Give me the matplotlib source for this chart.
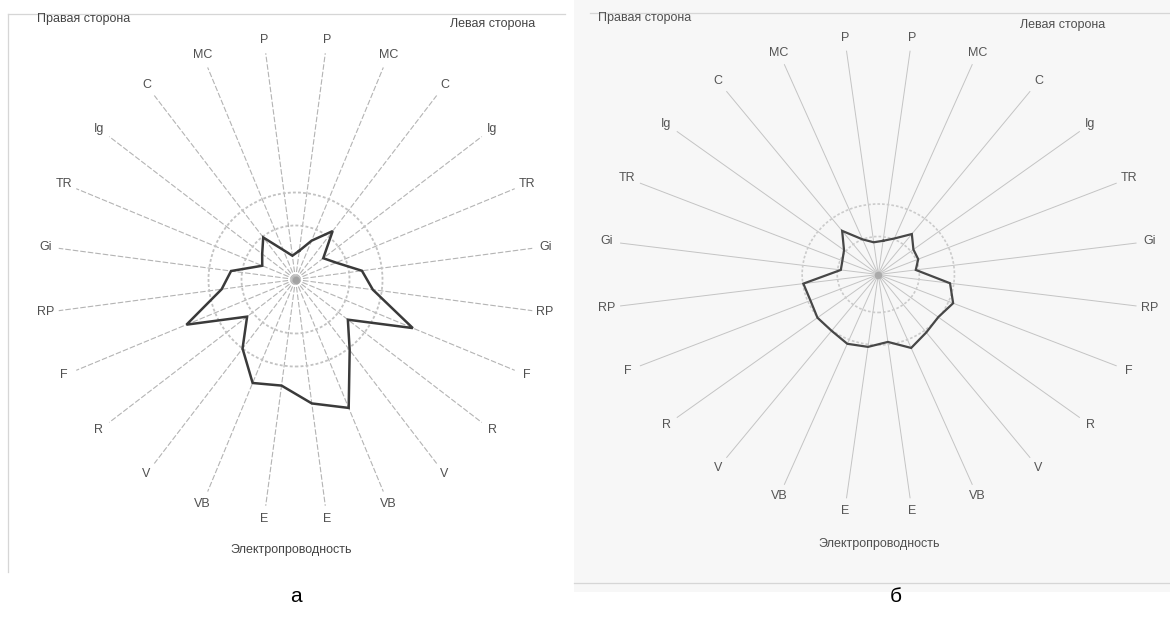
import numpy as np
import matplotlib
matplotlib.use("Agg")
import matplotlib.pyplot as plt
from matplotlib.patches import Circle, Rectangle
from matplotlib.lines import Line2D

plt.rcParams['font.family'] = ['Liberation Sans', 'DejaVu Sans']

W, H = 1170, 626

# Meridians, listed from the top of the chart downwards on each side
meridians = ['P', 'MC', 'C', 'Ig', 'TR', 'Gi', 'RP', 'F', 'R', 'V', 'VB', 'E']

# Panel "а": conductance per meridian
a_left_side = [29, 42, 61, 35, 44, 67, 78, 127, 66, 89, 139, 125]
a_right_side = [24, 32, 53, 42, 36, 65, 74.5, 118, 61, 87, 112, 107]
a_norm = [54, 87]

# Panel "б": conductance per meridian
b_left_side = [34, 39, 51, 41, 40, 35, 67, 75, 70, 73, 79.5, 68]
b_right_side = [32.5, 38, 55, 40, 36, 35, 70, 68, 71, 71, 75, 73]
b_norm = [38, 70.5]

side_titles = ['Правая сторона', 'Левая сторона']
bottom_title = 'Электропроводность'
panel_letters = ['а', 'б']

fig = plt.figure(figsize=(W / 100, H / 100), dpi=100)


def fx(px):
    return px / W


def fy(py):
    return 1 - py / H


def make_axes(box, center, sx):
    x0, y0, x1, y1 = box
    cx, cy = center
    ax = fig.add_axes([fx(x0), fy(y1), (x1 - x0) / W, (y1 - y0) / H])
    ax.set_xlim((x0 - cx) / sx, (x1 - cx) / sx)
    ax.set_ylim(cy - y1, cy - y0)
    ax.axis('off')
    ax.patch.set_alpha(0)
    return ax


def draw_radar(ax, left_vals, right_vals, norm, lab_a, lab_b, st):
    k = np.arange(len(meridians))
    th_l = np.deg2rad(7.5 + 15 * k)          # "Левая сторона" half
    th_r = -th_l                              # "Правая сторона" half

    def lab_r(th):
        return 1.0 / np.sqrt((np.sin(th) / lab_a) ** 2 + (np.cos(th) / lab_b) ** 2)

    # spokes and meridian labels
    for th in np.concatenate([th_l, th_r]):
        rl = lab_r(th)
        re = rl - 13
        ax.plot([0, re * np.sin(th)], [0, re * np.cos(th)], color=st['spoke'],
                lw=st['spoke_lw'], ls=st['spoke_ls'], zorder=1)
    for th, name in zip(np.concatenate([th_l, th_r]), meridians + meridians):
        rl = lab_r(th)
        ax.text(rl * np.sin(th), rl * np.cos(th), name, ha='center', va='center',
                fontsize=9, color=st['text'], clip_on=False)

    # norm rings
    for r in norm:
        ax.add_patch(Circle((0, 0), r, fill=False, ec=st['ring'], lw=st['ring_lw'],
                            ls=(0, (1.6, 1.2)), zorder=1))

    ax.scatter([0], [0], s=30, color=st['hub'], alpha=0.7, lw=0, zorder=2)

    # profile polygon, clockwise from the top
    th_all = np.concatenate([th_l, th_r[::-1]])
    r_all = np.concatenate([np.asarray(left_vals, float), np.asarray(right_vals, float)[::-1]])
    th_all = np.append(th_all, th_all[0])
    r_all = np.append(r_all, r_all[0])
    ax.plot(r_all * np.sin(th_all), r_all * np.cos(th_all), color=st['line'],
            lw=st['line_lw'], solid_joinstyle='miter', zorder=3)


# background of the second panel
fig.patches.append(Rectangle((fx(574), fy(592)), fx(1170) - fx(574), fy(0) - fy(592),
                             transform=fig.transFigure, facecolor='#f7f7f7',
                             edgecolor='none', zorder=-5))

# panel frames
for (x0, y0, x1, y1) in [(8, 14, 565, 14), (8, 14, 8, 572),
                         (590, 13, 1170, 13), (574, 583, 1170, 583)]:
    fig.add_artist(Line2D([fx(x0), fx(x1)], [fy(y0), fy(y1)], color='#d6d6d6', lw=0.9,
                          zorder=-4))

style_a = dict(spoke='#b4b4b4', spoke_lw=0.8, spoke_ls=(0, (5, 1.8)), ring='#c2c2c2',
               ring_lw=1.3, hub='#9a9a9a', line='#3a3a3a', line_lw=1.8, text='#505050')
style_b = dict(spoke='#c4c4c4', spoke_lw=0.7, spoke_ls='-', ring='#cbcbcb',
               ring_lw=1.2, hub='#a0a0a0', line='#474747', line_lw=1.6, text='#555555')

ax_a = make_axes((0, 0, 585, 626), (295.5, 279.5), 1.0)
draw_radar(ax_a, a_left_side, a_right_side, a_norm, 252, 241, style_a)

ax_b = make_axes((585, 0, 1170, 626), (878.3, 274.5), 1.08)
draw_radar(ax_b, b_left_side, b_right_side, b_norm, 254, 238, style_b)

# side captions and the bottom caption
for (x, y, s, c) in [(37, 19, side_titles[0], '#454545'), (450, 24, side_titles[1], '#454545'),
                     (598, 18, side_titles[0], '#505050'), (1020, 25, side_titles[1], '#505050')]:
    fig.text(fx(x), fy(y), s, ha='left', va='center', fontsize=9, color=c)
fig.text(fx(291), fy(550), bottom_title, ha='center', va='center', fontsize=9, color='#454545')
fig.text(fx(879), fy(544), bottom_title, ha='center', va='center', fontsize=9, color='#505050')

# panel letters
fig.text(fx(296), fy(597), panel_letters[0], ha='center', va='center', fontsize=15, color='black')
fig.text(fx(896), fy(597), panel_letters[1], ha='center', va='center', fontsize=15, color='black')

fig.savefig('out.png', dpi=100)
